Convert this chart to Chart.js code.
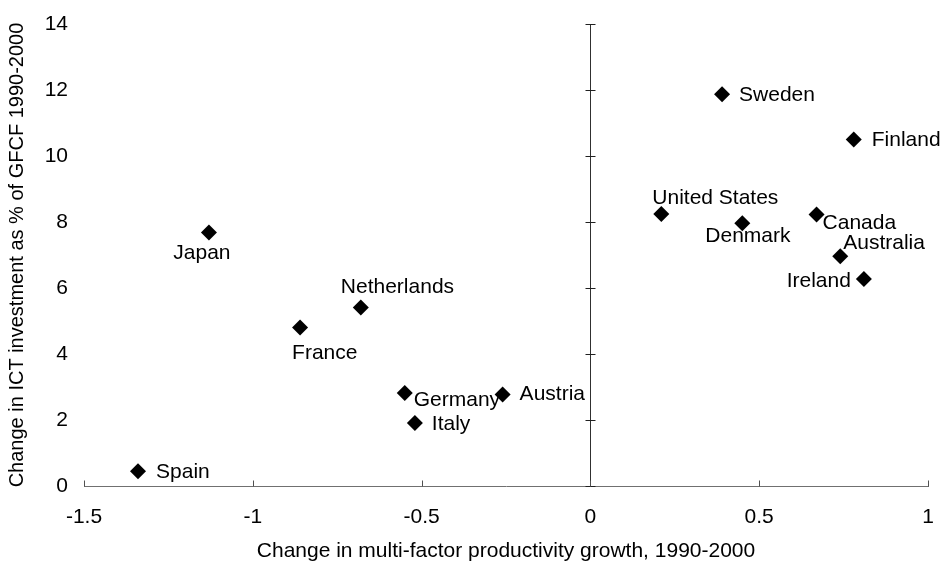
<!DOCTYPE html>
<html>
<head>
<meta charset="utf-8">
<script src="https://cdn.jsdelivr.net/npm/chart.js@4"></script>
<style>
  html, body { margin: 0; padding: 0; background: #ffffff; }
  #wrap { width: 941px; height: 563px; }
</style>
</head>
<body>
<div id="wrap"><canvas id="c" width="941" height="563"></canvas></div>
<script>
// ---- data ----
const countries = ["Spain", "Japan", "France", "Netherlands", "Germany", "Italy", "Austria",
  "United States", "Sweden", "Denmark", "Canada", "Australia", "Ireland", "Finland"];
const mfpChange = [-1.34, -1.13, -0.86, -0.68, -0.55, -0.52, -0.26,
  0.21, 0.39, 0.45, 0.67, 0.74, 0.81, 0.78];
const ictChange = [0.45, 7.68, 4.80, 5.41, 2.82, 1.91, 2.77,
  8.24, 11.87, 7.96, 8.23, 6.96, 6.27, 10.50];
const xTickValues = [-1.5, -1, -0.5, 0, 0.5, 1];
const xTickLabels = ["-1.5", "-1", "-0.5", "0", "0.5", "1"];
const yTickValues = [0, 2, 4, 6, 8, 10, 12, 14];
const yTickLabels = ["0", "2", "4", "6", "8", "10", "12", "14"];
const xTitle = "Change in multi-factor productivity growth, 1990-2000";
const yTitle = "Change in ICT investment as % of GFCF 1990-2000";

// ---- label placement (style only: offsets in px from the marker, alignment) ----
const labelPlacement = [
  { dx: 18, dy: 0, align: "left" },     // Spain
  { dx: -7, dy: 20, align: "center" },  // Japan
  { dx: -8, dy: 25, align: "left" },    // France
  { dx: -20, dy: -21, align: "left" },  // Netherlands
  { dx: 9, dy: 6, align: "left" },      // Germany
  { dx: 17, dy: 0, align: "left" },     // Italy
  { dx: 17, dy: -1, align: "left" },    // Austria
  { dx: -9, dy: -17, align: "left" },   // United States
  { dx: 17, dy: 0, align: "left" },     // Sweden
  { dx: -37, dy: 12, align: "left" },   // Denmark
  { dx: 6, dy: 8, align: "left" },      // Canada
  { dx: 3, dy: -14, align: "left" },    // Australia
  { dx: -13, dy: 1, align: "right" },   // Ireland
  { dx: 18, dy: 0, align: "left" }      // Finland
];

const FONT_FAMILY = "'Liberation Sans', Arial, sans-serif";
const FONT_SIZE = 21;

const points = countries.map((c, i) => ({ x: mfpChange[i], y: ictChange[i] }));

const axisDecor = {
  id: "axisDecor",
  afterDatasetsDraw(chart) {
    const { ctx, scales: { x, y } } = chart;
    ctx.save();
    // vertical axis at x = 0
    const x0 = Math.round(x.getPixelForValue(0)) + 0.5;
    ctx.strokeStyle = "#303030";
    ctx.lineWidth = 1;
    ctx.beginPath();
    ctx.moveTo(x0, y.getPixelForValue(0));
    ctx.lineTo(x0, y.getPixelForValue(14));
    ctx.stroke();
    ctx.strokeStyle = "#202020";
    yTickValues.forEach(v => {
      const py = Math.round(y.getPixelForValue(v)) + 0.5;
      ctx.beginPath();
      ctx.moveTo(x0 - 5, py);
      ctx.lineTo(x0 + 5, py);
      ctx.stroke();
    });
    // inward ticks on x axis
    const yb = Math.round(y.getPixelForValue(0)) + 0.5;
    ctx.strokeStyle = "#505050";
    xTickValues.forEach(v => {
      const px = Math.round(x.getPixelForValue(v)) + 0.5;
      ctx.beginPath();
      ctx.moveTo(px, yb);
      ctx.lineTo(px, yb - 6);
      ctx.stroke();
    });
    ctx.restore();
  }
};

const pointLabels = {
  id: "pointLabels",
  afterDatasetsDraw(chart) {
    const { ctx } = chart;
    const meta = chart.getDatasetMeta(0);
    ctx.save();
    ctx.fillStyle = "#000";
    ctx.font = FONT_SIZE + "px " + FONT_FAMILY;
    ctx.textBaseline = "middle";
    meta.data.forEach((pt, i) => {
      const p = labelPlacement[i];
      ctx.textAlign = p.align;
      ctx.fillText(countries[i], pt.x + p.dx, pt.y + p.dy + 1);
    });
    ctx.restore();
  }
};

new Chart(document.getElementById("c"), {
  type: "scatter",
  data: {
    datasets: [{
      data: points,
      pointStyle: "rectRot",
      pointRadius: 8,
      pointHoverRadius: 8,
      backgroundColor: "#000",
      borderColor: "#000",
      borderWidth: 0
    }]
  },
  options: {
    responsive: false,
    devicePixelRatio: 1,
    animation: false,
    layout: { autoPadding: false, padding: { left: 0, right: 13, top: 24, bottom: 0 } },
    plugins: { legend: { display: false }, tooltip: { enabled: false } },
    scales: {
      x: {
        type: "linear",
        position: "bottom",
        min: -1.5, max: 1,
        afterBuildTicks: s => { s.ticks = xTickValues.map(v => ({ value: v })); },
        grid: { display: false, drawTicks: false },
        border: { display: true, color: "#707070", width: 1 },
        ticks: {
          color: "#000",
          padding: 19,
          maxRotation: 0,
          autoSkip: false,
          callback: (v) => { const k = xTickValues.indexOf(v); return k >= 0 ? xTickLabels[k] : ""; },
          font: { family: FONT_FAMILY, size: FONT_SIZE }
        },
        title: {
          display: true,
          text: xTitle,
          color: "#000",
          padding: { top: 0, bottom: 0 },
          font: { family: FONT_FAMILY, size: FONT_SIZE, lineHeight: 1.1 }
        },
        afterFit: s => { s.height = 77; s.paddingLeft = 0; s.paddingRight = 0; }
      },
      y: {
        type: "linear",
        position: "left",
        min: 0, max: 14,
        afterBuildTicks: s => { s.ticks = yTickValues.map(v => ({ value: v })); },
        grid: { display: false, drawTicks: false },
        border: { display: false },
        ticks: {
          color: "#000",
          padding: 16,
          autoSkip: false,
          callback: (v) => { const k = yTickValues.indexOf(v); return k >= 0 ? yTickLabels[k] : ""; },
          font: { family: FONT_FAMILY, size: FONT_SIZE }
        },
        title: {
          display: true,
          text: yTitle,
          color: "#000",
          padding: { top: 6, bottom: 0 },
          font: { family: FONT_FAMILY, size: 20, lineHeight: 1.1 }
        },
        afterFit: s => { s.width = 84; s.paddingTop = 0; s.paddingBottom = 0; }
      }
    }
  },
  plugins: [axisDecor, pointLabels]
});
</script>
</body>
</html>
